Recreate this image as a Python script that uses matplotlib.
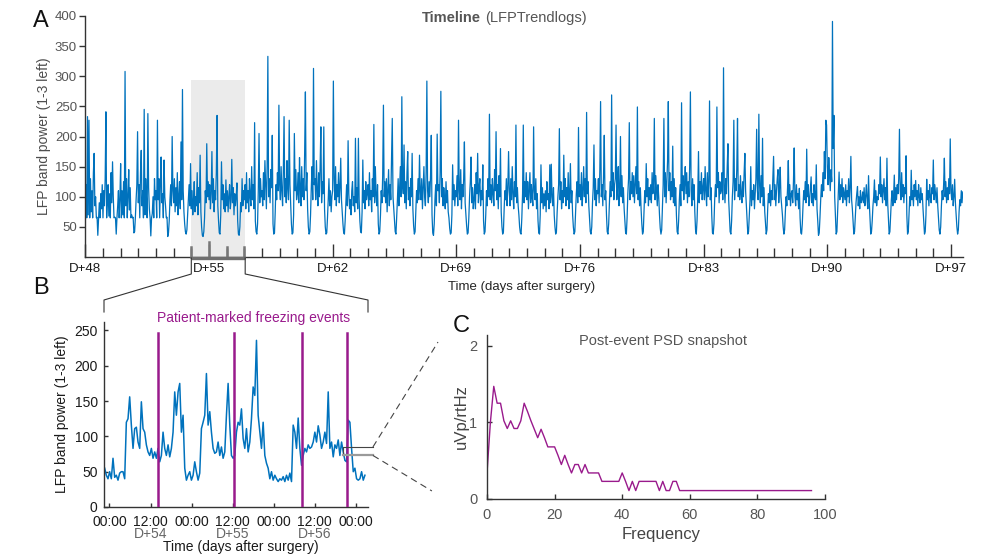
import matplotlib.pyplot as plt
import matplotlib.transforms as mtransforms
from matplotlib.lines import Line2D
import numpy as np

plt.rcParams['font.family'] = ['Liberation Sans', 'DejaVu Sans']

W, H = 987, 556
blue = '#0072BD'
purple = '#991a8c'

# ---------------- data ----------------
# timeline: hourly LFP power, one row per day starting at D+48
timeline_start = 48
timeline_rows = [
    [95, 120, 65, 233, 70, 227, 65, 130, 75, 110, 65, 140, 172, 85, 100, 65, 66, 36, 65, 90, 65, 105, 80, 120],
    [65, 110, 85, 130, 241, 65, 95, 120, 68, 105, 65, 140, 90, 158, 100, 65, 66, 65, 38, 65, 85, 110, 65, 95],
    [155, 65, 110, 70, 125, 65, 308, 85, 130, 65, 100, 145, 78, 115, 65, 70, 65, 66, 40, 42, 65, 95, 120, 208],
    [90, 120, 65, 140, 177, 85, 110, 65, 245, 70, 130, 100, 65, 238, 115, 80, 65, 35, 65, 72, 100, 65, 130, 95],
    [110, 65, 227, 95, 130, 65, 120, 166, 90, 105, 65, 161, 100, 85, 65, 66, 34, 40, 60, 95, 120, 85, 200, 110],
    [90, 130, 75, 115, 85, 140, 70, 100, 125, 80, 191, 95, 278, 110, 75, 55, 42, 38, 45, 70, 95, 120, 85, 155],
    [80, 110, 70, 95, 125, 75, 100, 85, 140, 70, 115, 90, 169, 75, 50, 36, 34, 42, 65, 110, 90, 188, 100, 125],
    [95, 120, 80, 105, 175, 90, 130, 75, 110, 95, 140, 235, 85, 60, 40, 38, 70, 158, 95, 120, 80, 105, 75, 128],
    [85, 110, 75, 100, 120, 80, 95, 162, 90, 115, 70, 105, 85, 100, 123, 60, 38, 36, 50, 90, 75, 130, 85, 110],
    [95, 120, 80, 140, 90, 110, 75, 130, 100, 85, 150, 95, 120, 80, 223, 60, 42, 38, 55, 110, 205, 90, 130, 100],
    [110, 85, 140, 95, 160, 120, 80, 150, 333, 100, 130, 90, 145, 115, 202, 55, 38, 40, 75, 120, 95, 140, 110, 252],
    [120, 95, 150, 110, 85, 140, 233, 100, 130, 90, 160, 115, 95, 227, 120, 85, 55, 38, 40, 70, 205, 110, 145, 95],
    [105, 140, 90, 165, 115, 85, 150, 100, 130, 95, 175, 274, 110, 140, 80, 50, 38, 42, 70, 115, 150, 95, 313, 120],
    [130, 95, 160, 110, 85, 140, 100, 150, 216, 90, 125, 105, 216, 80, 50, 38, 40, 65, 95, 130, 85, 110, 75, 100],
    [110, 292, 130, 95, 150, 85, 120, 100, 140, 90, 115, 164, 95, 75, 55, 40, 38, 60, 90, 120, 85, 193, 105, 80],
    [95, 70, 110, 125, 85, 100, 75, 197, 90, 115, 80, 197, 95, 60, 42, 40, 75, 161, 90, 110, 80, 125, 95, 105],
    [120, 85, 140, 95, 110, 75, 130, 100, 220, 90, 150, 105, 85, 120, 55, 38, 42, 70, 110, 90, 135, 252, 100, 125],
    [90, 130, 75, 110, 145, 85, 120, 95, 160, 230, 100, 80, 60, 42, 38, 65, 95, 130, 85, 115, 150, 100, 266, 120],
    [105, 186, 90, 125, 80, 140, 175, 95, 115, 85, 130, 100, 172, 80, 52, 38, 42, 75, 110, 90, 130, 95, 169, 110],
    [95, 130, 80, 115, 150, 100, 85, 140, 292, 110, 90, 125, 100, 135, 202, 70, 40, 36, 55, 95, 120, 85, 204, 110],
    [120, 90, 140, 275, 100, 130, 85, 115, 95, 80, 125, 90, 110, 75, 65, 48, 38, 40, 70, 153, 95, 120, 85, 110],
    [100, 135, 85, 227, 110, 95, 145, 80, 120, 100, 130, 191, 90, 70, 52, 38, 40, 65, 100, 125, 166, 90, 115, 80],
    [95, 120, 80, 140, 105, 172, 90, 115, 130, 85, 110, 95, 153, 60, 38, 42, 70, 110, 85, 130, 100, 237, 95, 120],
    [90, 130, 105, 85, 145, 110, 208, 95, 120, 80, 135, 100, 180, 75, 50, 38, 42, 80, 110, 95, 130, 85, 115, 175],
    [110, 85, 130, 95, 150, 105, 80, 125, 100, 219, 90, 115, 85, 70, 50, 40, 38, 65, 105, 219, 90, 125, 100, 140],
    [95, 125, 80, 110, 140, 90, 120, 100, 85, 216, 110, 95, 130, 80, 105, 60, 40, 38, 70, 153, 90, 115, 80, 105],
    [85, 110, 75, 125, 95, 105, 80, 153, 90, 154, 100, 85, 115, 70, 50, 38, 42, 75, 100, 120, 213, 95, 125, 80],
    [110, 90, 169, 100, 130, 85, 115, 95, 140, 80, 105, 155, 90, 110, 70, 50, 38, 42, 75, 105, 125, 90, 215, 100],
    [120, 95, 140, 85, 110, 150, 100, 130, 90, 240, 105, 125, 85, 65, 42, 38, 50, 90, 115, 186, 95, 130, 85, 110],
    [105, 130, 90, 145, 258, 100, 120, 85, 135, 202, 95, 110, 70, 42, 38, 55, 90, 125, 100, 269, 110, 140, 95, 120],
    [130, 219, 95, 120, 150, 85, 110, 200, 100, 135, 90, 115, 80, 60, 40, 38, 65, 105, 130, 223, 95, 125, 105, 140],
    [100, 135, 90, 120, 150, 105, 249, 95, 125, 85, 115, 80, 55, 38, 42, 75, 110, 90, 155, 100, 130, 85, 115, 95],
    [120, 90, 140, 105, 125, 230, 95, 135, 110, 85, 120, 100, 70, 48, 38, 45, 85, 120, 230, 100, 140, 90, 125, 160],
    [258, 110, 140, 95, 125, 100, 184, 90, 130, 85, 115, 70, 42, 38, 60, 95, 120, 85, 256, 110, 135, 95, 120, 150],
    [105, 140, 90, 125, 100, 150, 274, 110, 85, 130, 95, 120, 75, 45, 38, 60, 100, 175, 90, 125, 105, 140, 95, 115],
    [130, 95, 150, 110, 85, 140, 100, 125, 259, 95, 115, 70, 40, 38, 55, 95, 120, 100, 249, 115, 140, 90, 125, 105],
    [110, 140, 95, 314, 120, 90, 130, 105, 150, 188, 95, 70, 42, 38, 60, 100, 125, 227, 95, 130, 110, 145, 230, 100],
    [120, 95, 135, 105, 90, 125, 100, 140, 172, 110, 85, 60, 38, 42, 70, 95, 150, 85, 110, 95, 120, 80, 105, 130],
    [212, 110, 95, 237, 120, 90, 135, 100, 197, 85, 115, 75, 55, 38, 45, 80, 105, 90, 120, 85, 110, 95, 130, 167],
    [95, 120, 85, 110, 130, 145, 90, 115, 149, 100, 85, 70, 50, 38, 45, 75, 100, 85, 115, 160, 95, 120, 85, 105],
    [110, 90, 125, 181, 100, 85, 120, 95, 105, 80, 114, 65, 40, 38, 55, 85, 110, 95, 125, 90, 179, 100, 120, 85],
    [95, 115, 133, 90, 105, 85, 120, 100, 95, 153, 80, 60, 36, 40, 65, 95, 120, 100, 140, 110, 175, 130, 227, 219],
    [150, 120, 165, 135, 110, 145, 125, 391, 180, 235, 100, 70, 38, 42, 75, 110, 141, 95, 120, 100, 130, 90, 115, 105],
    [95, 120, 85, 110, 100, 130, 90, 115, 167, 95, 80, 60, 38, 42, 65, 90, 105, 117, 85, 100, 80, 110, 90, 95],
    [108, 90, 115, 85, 100, 120, 95, 80, 135, 90, 65, 38, 42, 60, 85, 100, 128, 90, 110, 85, 100, 95, 120, 105],
    [166, 100, 120, 90, 110, 130, 95, 115, 85, 164, 90, 65, 38, 42, 70, 95, 110, 85, 100, 136, 90, 115, 95, 120],
    [105, 130, 212, 110, 95, 140, 100, 120, 90, 115, 105, 168, 70, 38, 42, 70, 100, 85, 144, 95, 110, 85, 120, 100],
    [127, 95, 110, 85, 120, 100, 90, 115, 95, 105, 80, 60, 38, 42, 70, 129, 95, 110, 85, 120, 100, 90, 115, 105],
    [161, 95, 120, 105, 90, 115, 85, 65, 45, 38, 50, 85, 110, 95, 120, 164, 100, 125, 90, 115, 95, 130, 105, 196],
    [110, 95, 120, 85, 100, 129, 90, 70, 50, 38, 45, 75, 95, 85, 110, 90, 108],
]

# zoomed window D+54..D+57 (about 30 min samples)
zoom_start, zoom_end = 54.0, 57.05
zoom_t0, zoom_step = 53.941, 0.02033
zoom_power = [
    55, 45, 40, 50, 40, 69, 42, 45, 38, 48,
    50, 50, 40, 120, 125, 156, 116, 83, 111, 113,
    92, 83, 149, 111, 106, 88, 78, 73, 83, 69,
    78, 69, 83, 64, 73, 106, 83, 73, 88, 71,
    83, 106, 163, 130, 163, 175, 106, 130, 55, 38,
    45, 50, 38, 45, 64, 50, 38, 48, 111, 120,
    130, 189, 116, 135, 106, 83, 76, 78, 92, 73,
    85, 69, 78, 130, 175, 116, 73, 69, 73, 106,
    120, 116, 139, 97, 83, 111, 78, 92, 125, 170,
    158, 236, 130, 106, 83, 120, 73, 62, 55, 40,
    50, 38, 45, 40, 36, 40, 38, 43, 36, 45,
    38, 48, 36, 116, 106, 83, 126, 83, 59, 73,
    83, 78, 88, 83, 85, 92, 106, 92, 115, 102,
    83, 92, 106, 90, 163, 83, 92, 71, 88, 83,
    95, 73, 92, 78, 66, 64, 123, 120, 83, 50,
    55, 40, 38, 40, 50, 38, 45,
]
freezing_events = [54.59, 55.52, 56.35, 56.90]
event_top = 247

# post-event PSD snapshot (1 Hz bins)
psd_value = [
    0.34, 1.00, 1.47, 1.25, 1.25, 1.02, 0.92, 1.02, 0.92, 0.92,
    1.02, 1.25, 1.14, 1.02, 0.91, 0.80, 0.91, 0.80, 0.68, 0.68,
    0.68, 0.57, 0.45, 0.57, 0.45, 0.34, 0.45, 0.45, 0.34, 0.45,
    0.34, 0.34, 0.34, 0.34, 0.23, 0.23, 0.23, 0.23, 0.23, 0.23,
    0.34, 0.23, 0.11, 0.23, 0.11, 0.23, 0.23, 0.23, 0.23, 0.23,
    0.23, 0.11, 0.23, 0.11, 0.11, 0.23, 0.23, 0.11, 0.11, 0.11,
    0.11, 0.11, 0.11, 0.11, 0.11, 0.11, 0.11, 0.11, 0.11, 0.11,
    0.11, 0.11, 0.11, 0.11, 0.11, 0.11, 0.11, 0.11, 0.11, 0.11,
    0.11, 0.11, 0.11, 0.11, 0.11, 0.11, 0.11, 0.11, 0.11, 0.11,
    0.11, 0.11, 0.11, 0.11, 0.11, 0.11, 0.11,
]
psd_freq = np.arange(len(psd_value))

# ---------------- figure ----------------
timeline_days, timeline_power = [], []
for i, row in enumerate(timeline_rows):
    timeline_days.extend(timeline_start + i + np.arange(len(row)) / 24.0)
    timeline_power.extend(row)
zoom_days = zoom_t0 + np.arange(len(zoom_power)) * zoom_step

fig = plt.figure(figsize=(W / 100, H / 100), dpi=100)


def box(l, t, r, b):
    return [l / W, 1 - b / H, (r - l) / W, (b - t) / H]


ax_a = fig.add_axes(box(85.3, 16, 963, 257))
ax_b = fig.add_axes(box(104, 322, 368, 507))
ax_c = fig.add_axes(box(487, 335, 825, 499))

for ax in (ax_a, ax_b, ax_c):
    ax.spines['top'].set_visible(False)
    ax.spines['right'].set_visible(False)
    for s in ('left', 'bottom'):
        ax.spines[s].set_color('#333333')
        ax.spines[s].set_linewidth(1.0)
    ax.patch.set_alpha(0)

# ---- A: timeline ----
ax_a.axvspan(zoom_start, zoom_end, ymin=0, ymax=293 / 400, color='#ebebeb', lw=0, zorder=0)
ax_a.plot(timeline_days, timeline_power, color=blue, lw=0.9, zorder=2)
ax_a.set_xlim(48, 97.68)
ax_a.set_ylim(0, 400)
ax_a.set_yticks(np.arange(50, 401, 50))
major_days = np.arange(48, 98, 7)
ax_a.set_xticks(major_days)
ax_a.set_xticklabels(['D+%d' % d for d in major_days])
ax_a.set_xticks(np.arange(48, 98, 1), minor=True)
ax_a.tick_params(axis='x', which='major', direction='in', length=9.5, width=1, color='#333333',
                 pad=4, labelsize=9.5, labelcolor='#1a1a1a')
ax_a.tick_params(axis='x', which='minor', direction='in', length=6.5, width=1, color='#333333')
ax_a.tick_params(axis='y', direction='out', length=4.5, width=1, color='#333333',
                 pad=1.5, labelsize=9.5, labelcolor='#555555')
ax_a.set_ylabel('LFP band power (1-3 left)', fontsize=10, color='#4d4d4d', va='center')
ax_a.yaxis.set_label_coords(-0.0468, 0.5)
ax_a.set_xlabel('Time (days after surgery)', fontsize=9.5, color='#262626', va='center')
ax_a.xaxis.set_label_coords(0.497, -0.1245)
ax_a.text(0.4504, 0.9917, 'Timeline', transform=ax_a.transAxes, ha='right', va='center',
          fontsize=10.5, fontweight='bold', color='#555555')
ax_a.text(0.455, 0.9917, '(LFPTrendlogs)', transform=ax_a.transAxes, ha='left', va='center',
          fontsize=10.5, color='#555555')

# highlight of the zoomed window on the time axis
trans_a = mtransforms.blended_transform_factory(ax_a.transData, ax_a.transAxes)
for d in range(int(zoom_start), int(zoom_end) + 1):
    h = 15 / 241 if d == 55 else 10 / 241
    ax_a.plot([d, d], [0, h], transform=trans_a, color='#777777', lw=1.8, clip_on=False, zorder=3)
ax_a.plot([zoom_start, zoom_end], [-0.004, -0.004], transform=trans_a, color='#6e6e6e', lw=2.4,
          clip_on=False, solid_capstyle='butt', zorder=4)

# ---- B: zoom ----
ax_b.plot(zoom_days, zoom_power, color=blue, lw=1.1, zorder=2)
for ev in freezing_events:
    ax_b.plot([ev, ev], [0, event_top], color=purple, lw=1.8, zorder=3)
ax_b.set_xlim(53.933, 57.15)
ax_b.set_ylim(0, 262)
ax_b.set_yticks(np.arange(0, 251, 50))
half_days = np.arange(54, 57.01, 0.5)
ax_b.set_xticks(half_days)
ax_b.set_xticklabels(['00:00' if d % 1 == 0 else '12:00' for d in half_days])
ax_b.tick_params(axis='both', direction='in', length=3, width=1, color='#333333',
                 labelsize=10, labelcolor='#1a1a1a')
ax_b.tick_params(axis='x', pad=5.5)
ax_b.tick_params(axis='y', pad=4.5)
trans_b = mtransforms.blended_transform_factory(ax_b.transData, ax_b.transAxes)
for d in (54, 55, 56):
    ax_b.text(d + 0.5, -0.148, 'D+%d' % d, transform=trans_b, ha='center', va='center',
              fontsize=10, color='#666666')
ax_b.set_ylabel('LFP band power (1-3 left)', fontsize=10, color='#1a1a1a', va='center')
ax_b.yaxis.set_label_coords(-0.159, 0.5)
ax_b.set_xlabel('Time (days after surgery)', fontsize=10, color='#1a1a1a', va='center')
ax_b.xaxis.set_label_coords(0.519, -0.218)
ax_b.text(0.568, 1.0216, 'Patient-marked freezing events', transform=ax_b.transAxes,
          ha='center', va='center', fontsize=10, color=purple)

# ---- C: PSD ----
ax_c.plot(psd_freq, psd_value, color=purple, lw=1.0)
ax_c.set_xlim(0, 100)
ax_c.set_ylim(0, 2.14)
ax_c.set_xticks(np.arange(0, 101, 20))
ax_c.set_yticks([0, 1, 2])
ax_c.tick_params(axis='both', direction='in', length=3.6, width=1, color='#333333',
                 labelsize=10.5, labelcolor='#555555')
ax_c.tick_params(axis='x', pad=6.5)
ax_c.tick_params(axis='y', pad=7)
ax_c.set_ylabel('uVp/rtHz', fontsize=12, color='#444444', va='center')
ax_c.yaxis.set_label_coords(-0.075, 0.5)
ax_c.set_xlabel('Frequency', fontsize=12, color='#444444', va='center')
ax_c.xaxis.set_label_coords(0.515, -0.2195)
ax_c.text(0.521, 0.963, 'Post-event PSD snapshot', transform=ax_c.transAxes, ha='center',
          va='center', fontsize=10.5, color='#555555')

# ---- connectors ----


def px(ax, x, y, axes=False):
    tr = ax.transAxes if axes else ax.transData
    dx, dy = tr.transform((x, y))
    return dx, H - dy


def fig_line(points, **kw):
    xs = [p[0] / W for p in points]
    ys = [1 - p[1] / H for p in points]
    fig.add_artist(Line2D(xs, ys, transform=fig.transFigure, **kw))


for xa, xb in ((zoom_start, 0), (zoom_end, 1)):
    a = px(ax_a, xa, 0)
    b = px(ax_b, xb, 1, axes=True)
    fig_line([(a[0], a[1] + 1), (a[0], a[1] + 17), (b[0], b[1] - 22), (b[0], b[1] - 10)],
             color='#333333', lw=0.8)

p_tl = px(ax_b, 56.85, 85)
p_tr = px(ax_b, 57.21, 85)
p_bl = px(ax_b, 56.85, 73)
p_br = px(ax_b, 57.21, 73)
fig_line([p_tr, p_tl, p_bl], color='#444444', lw=0.8)
fig_line([p_bl, p_br], color='#9a9a9a', lw=1.6)
c_top = px(ax_c, -0.145, 0.957, axes=True)
c_bot = px(ax_c, -0.163, 0.049, axes=True)
fig_line([p_tr, c_top], color='#444444', lw=0.8, dashes=(6, 4))
fig_line([p_br, c_bot], color='#444444', lw=0.8, dashes=(6, 4))

# panel letters
for letter, (lx, ly) in (('A', (41, 21)), ('B', (41, 288)), ('C', (461, 326))):
    fig.text(lx / W, 1 - ly / H, letter, ha='center', va='center', fontsize=17, color='#111111')

fig.savefig('out.png', dpi=100)
